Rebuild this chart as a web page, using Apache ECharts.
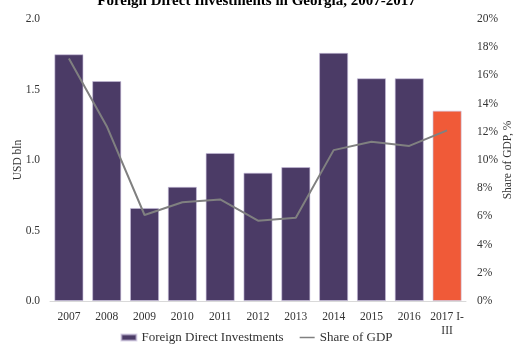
<!DOCTYPE html>
<html>
<head>
<meta charset="utf-8">
<script src="https://cdn.jsdelivr.net/npm/echarts@6/dist/echarts.min.js"></script>
<style>
  html, body { margin: 0; padding: 0; background: #fff; }
  #chart { width: 513px; height: 354px; }
</style>
</head>
<body>
<div id="chart"></div>
<script>
// FDI inflows (USD bln) and their share of GDP (%)
const years = ['2007', '2008', '2009', '2010', '2011', '2012', '2013', '2014', '2015', '2016', '2017 I-\nIII'];
const fdi = [1.75, 1.56, 0.66, 0.81, 1.05, 0.91, 0.95, 1.76, 1.58, 1.58, 1.35];
const shareOfGdp = [17.2, 12.4, 6.1, 7.0, 7.2, 5.7, 5.9, 10.7, 11.3, 11.0, 12.1];
const leftTicks = [0, 0.5, 1.0, 1.5, 2.0];

const purple = '#4b3b66';
const orange = '#f05a38';
const font = 'Liberation Serif';

const chart = echarts.init(document.getElementById('chart'));
chart.setOption({
  animation: false,
  textStyle: { fontFamily: font },
  title: {
    text: 'Foreign Direct Investments in Georgia, 2007-2017',
    left: 'center',
    top: -11,
    textStyle: { fontFamily: font, fontSize: 15, fontWeight: 'bold', color: '#000' }
  },
  grid: { left: 50, right: 47, top: 19, bottom: 53, outerBoundsMode: 'none', containLabel: false },
  legend: {
    bottom: 5,
    left: 'center',
    itemGap: 16,
    itemWidth: 15,
    itemHeight: 6,
    textStyle: { fontFamily: font, fontSize: 13, color: '#333' },
    data: [
      { name: 'Foreign Direct Investments', icon: 'rect', itemStyle: { color: purple } },
      { name: 'Share of GDP', icon: 'path://M0,0H20V2H0Z', itemStyle: { color: '#808080' } }
    ]
  },
  xAxis: {
    type: 'category',
    data: years,
    axisLine: { lineStyle: { color: '#d9d9d9', width: 1 } },
    axisTick: { show: false },
    axisLabel: { color: '#333', fontSize: 11.5, margin: 9, lineHeight: 14, interval: 0 }
  },
  yAxis: [
    {
      type: 'value',
      min: 0,
      max: 2,
      interval: 0.5,
      name: 'USD bln',
      nameLocation: 'middle',
      nameRotate: 90,
      nameGap: 26,
      nameMoveOverlap: false,
      nameTextStyle: { fontFamily: font, fontSize: 11.5, color: '#333' },
      splitLine: { show: false },
      axisLine: { show: false },
      axisTick: { show: false },
      axisLabel: {
        color: '#333', fontSize: 11.5, margin: 10,
        formatter: v => leftTicks.includes(v) ? v.toFixed(1) : ''
      }
    },
    {
      type: 'value',
      min: 0,
      max: 20,
      interval: 2,
      name: 'Share of GDP, %',
      nameLocation: 'middle',
      nameRotate: 90,
      nameGap: 36,
      nameMoveOverlap: false,
      nameTextStyle: { fontFamily: font, fontSize: 11.5, color: '#333' },
      splitLine: { show: false },
      axisLine: { show: false },
      axisTick: { show: false },
      axisLabel: { color: '#333', fontSize: 11.5, margin: 11, formatter: '{value}%' }
    }
  ],
  series: [
    {
      name: 'Foreign Direct Investments',
      type: 'bar',
      yAxisIndex: 0,
      barCategoryGap: '23%',
      data: fdi.map((v, i) => ({
        value: v,
        itemStyle: { color: i === fdi.length - 1 ? orange : purple }
      })),
      itemStyle: { color: purple, borderColor: 'rgba(200,190,220,0.6)', borderWidth: 1 }
    },
    {
      name: 'Share of GDP',
      type: 'line',
      yAxisIndex: 1,
      data: shareOfGdp,
      symbol: 'none',
      lineStyle: { color: '#808080', width: 2 },
      itemStyle: { color: '#808080' }
    }
  ]
});
</script>
</body>
</html>
